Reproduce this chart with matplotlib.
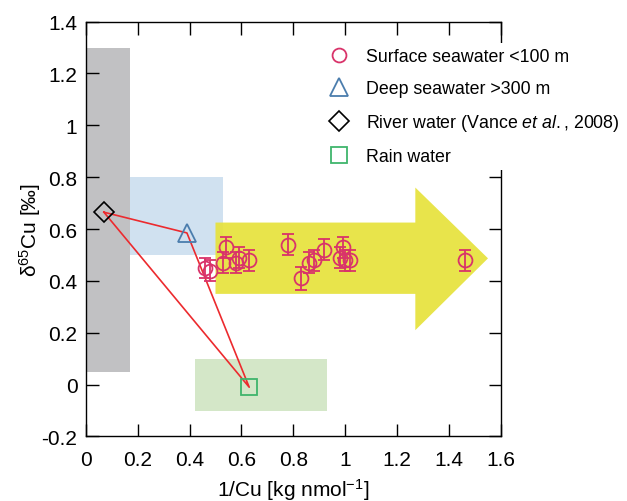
import numpy as np
import matplotlib.pyplot as plt
from matplotlib.patches import Rectangle, Polygon

plt.rcParams['font.family'] = ['Liberation Sans', 'DejaVu Sans']
plt.rcParams['mathtext.fontset'] = 'custom'
plt.rcParams['mathtext.rm'] = 'Liberation Sans'
plt.rcParams['mathtext.it'] = 'Liberation Sans:italic'
plt.rcParams['mathtext.default'] = 'regular'

# surface seawater <100 m
surf_x = [0.46, 0.48, 0.53, 0.54, 0.58, 0.59, 0.63, 0.78, 0.83, 0.86, 0.88, 0.92, 0.99, 0.98, 1.0, 1.02, 1.46]
surf_y = [0.45, 0.44, 0.47, 0.53, 0.47, 0.49, 0.48, 0.54, 0.41, 0.47, 0.48, 0.52, 0.53, 0.49, 0.48, 0.48, 0.48]
surf_err = [0.04, 0.04, 0.04, 0.04, 0.04, 0.04, 0.04, 0.04, 0.045, 0.04, 0.04, 0.04, 0.04, 0.04, 0.04, 0.04, 0.04]

# end members
deep_x, deep_y = [0.39], [0.585]
river_x, river_y = [0.07], [0.665]
rain_x, rain_y = [0.63], [-0.01]

# shaded ranges (x0, x1, y0, y1)
river_box = [0.0, 0.17, 0.05, 1.30]
deep_box = [0.17, 0.53, 0.50, 0.80]
rain_box = [0.42, 0.93, -0.10, 0.10]
# big arrow: body x0, x1, y0, y1 ; head y0, y1, tip x, tip y
arrow_body = [0.50, 1.27, 0.35, 0.625]
arrow_head = [0.21, 0.76, 1.55, 0.487]

xticks = [0, 0.2, 0.4, 0.6, 0.8, 1.0, 1.2, 1.4, 1.6]
xtick_labels = ['0', '0.2', '0.4', '0.6', '0.8', '1', '1.2', '1.4', '1.6']
yticks = [-0.2, 0, 0.2, 0.4, 0.6, 0.8, 1.0, 1.2, 1.4]
ytick_labels = ['-0.2', '0', '0.2', '0.4', '0.6', '0.8', '1', '1.2', '1.4']

fig = plt.figure(figsize=(6.27, 5.02), dpi=100)
ax = fig.add_axes([0.1367, 0.1285, 0.6623, 0.8265])

def box(b, color, z):
    ax.add_patch(Rectangle((b[0], b[2]), b[1] - b[0], b[3] - b[2],
                           facecolor=color, edgecolor='none', zorder=z))

box(river_box, '#c1c1c3', 1)
box(deep_box, '#d0e1f0', 1)
box(rain_box, '#d4e7c8', 1)

bx0, bx1, by0, by1 = arrow_body
hy0, hy1, tx, ty = arrow_head
ax.add_patch(Polygon([(bx0, by0), (bx1, by0), (bx1, hy0), (tx, ty), (bx1, hy1),
                      (bx1, by1), (bx0, by1)], closed=True,
                     facecolor='#e6e23c', edgecolor='none', alpha=0.92, zorder=1.5))

# mixing lines
ax.plot(river_x + deep_x + rain_x + river_x, river_y + deep_y + rain_y + river_y,
        color='#ec2a2e', lw=1.2, zorder=2)

eb = ax.errorbar(surf_x, surf_y, yerr=surf_err, fmt='o', ms=10, mfc='none',
                 mec='#d9336a', mew=1.3, ecolor='#d9336a', elinewidth=1.3,
                 capsize=4, capthick=1.3, zorder=3)
l_deep, = ax.plot(deep_x, deep_y, '^', ms=13, mfc='none', mec='#4b7dad', mew=1.3, zorder=3)
l_river, = ax.plot(river_x, river_y, 'D', ms=10.5, mfc='none', mec='black', mew=1.2, zorder=3)
l_rain, = ax.plot(rain_x, rain_y, 's', ms=11, mfc='none', mec='#3fb56c', mew=1.3, zorder=3)

ax.set_xlim(0, 1.6)
ax.set_ylim(-0.2, 1.4)
ax.set_xticks(xticks)
ax.set_xticklabels(xtick_labels)
ax.set_yticks(yticks)
ax.set_yticklabels(ytick_labels)
ax.tick_params(direction='in', length=9, width=1, labelsize=15,
               top=True, right=True)
ax.tick_params(axis='x', pad=10)
ax.tick_params(axis='y', pad=6)
for s in ax.spines.values():
    s.set_linewidth(1)

ax.set_xlabel('1/Cu [kg nmol$^{-1}$]', fontsize=15, labelpad=5)
ax.set_ylabel('δ$^{65}$Cu [‰]', fontsize=15, labelpad=-1)

handles = [eb[0], l_deep, l_river, l_rain]
labels = ['Surface seawater <100 m', 'Deep seawater >300 m',
          r'River water (Vance $\it{et\ al.}{,}$ 2008)', 'Rain water']
leg = ax.legend(handles, labels, loc='upper left', bbox_to_anchor=(323 / 627, 1 - 44 / 502),
                bbox_transform=fig.transFigure, fontsize=12.8, frameon=True,
                facecolor='white', edgecolor='none', framealpha=1, fancybox=False,
                handlelength=1.2, handletextpad=0.9, labelspacing=0.84,
                borderpad=0.3, borderaxespad=0)
leg.set_zorder(5)

fig.savefig('out.png', dpi=100)
